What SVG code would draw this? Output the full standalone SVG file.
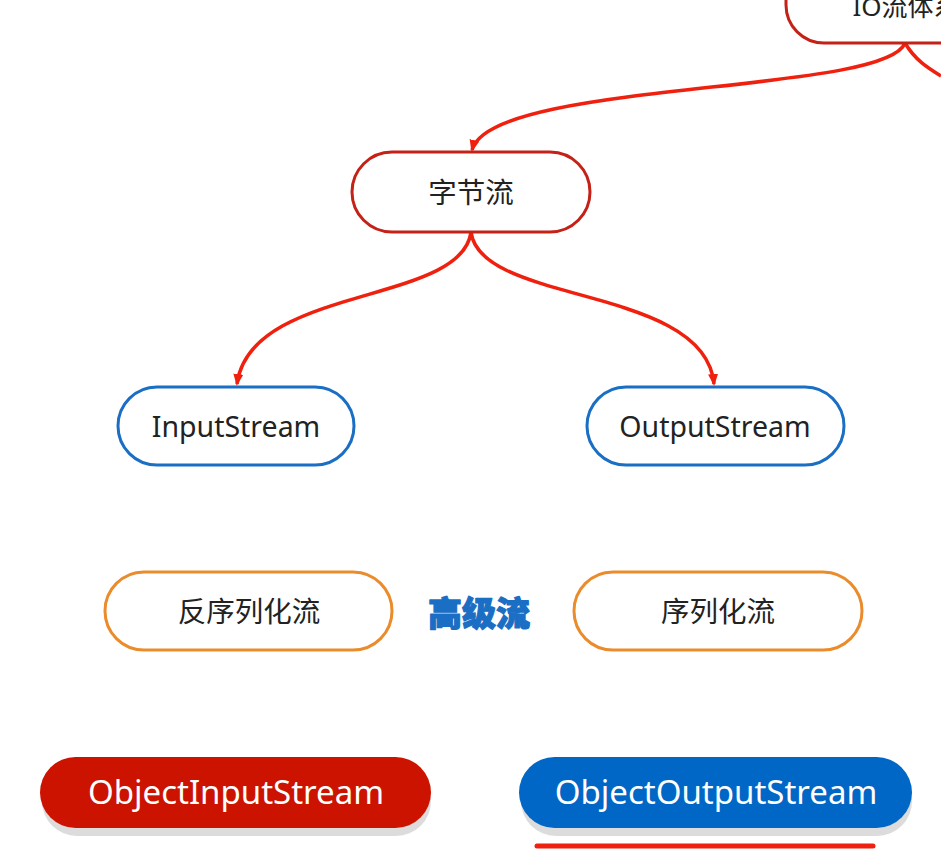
<svg xmlns="http://www.w3.org/2000/svg" width="941" height="854" viewBox="0 0 941 854">
<style>
.t{font-family:"Noto Sans","Noto Sans CJK SC",sans-serif;text-anchor:middle;dominant-baseline:central}
.red{fill:#fff;stroke:#c42117;stroke-width:3}
.blue{fill:#fff;stroke:#1a6fc4;stroke-width:3}
.org{fill:#fff;stroke:#ea8b2c;stroke-width:3}
.c{fill:none;stroke:#f0200f;stroke-width:3.5}
</style>
<defs>
<marker id="arr" markerWidth="12" markerHeight="12" refX="10" refY="6" orient="auto" markerUnits="userSpaceOnUse" viewBox="0 0 12 12">
<path d="M0,1 L12,6 L0,11 z" fill="#f0200f"/>
</marker>
</defs>
<rect width="941" height="854" fill="#fff"/>
<g id="connectors">
<path class="c" d="M905,43 C885,95 490,80 472,150" marker-end="url(#arr)"/>
<path class="c" d="M905,43 C915,60 928,68 941,76"/>
<path class="c" d="M471,232 C462,305 250,285 237,384" marker-end="url(#arr)"/>
<path class="c" d="M471,232 C480,305 705,285 714,384" marker-end="url(#arr)"/>
</g>
<g id="io">
<rect class="red" x="786" y="-37" width="220" height="80" rx="38"/>
<text class="t" x="906" y="6" font-size="26" fill="#222">IO流体系</text>
</g>
<g id="byte">
<rect class="red" x="352" y="152" width="238" height="80" rx="40"/>
<text class="t" x="471" y="192" font-size="28.5" fill="#222">字节流</text>
</g>
<g id="input">
<rect class="blue" x="118" y="387" width="236" height="78" rx="39"/>
<text class="t" x="236" y="426" font-size="28.5" fill="#222">InputStream</text>
</g>
<g id="output">
<rect class="blue" x="587" y="387" width="257" height="78" rx="39"/>
<text class="t" x="715" y="426" font-size="28.5" fill="#222">OutputStream</text>
</g>
<g id="deser">
<rect class="org" x="105" y="572" width="287" height="78" rx="39"/>
<text class="t" x="249" y="611" font-size="28.5" fill="#222">反序列化流</text>
</g>
<g id="advanced">
<text class="t" x="479" y="613" font-size="34" font-weight="900" fill="#1a6fc4" stroke="#1a6fc4" stroke-width="1.2" stroke-linejoin="round">高级流</text>
</g>
<g id="ser">
<rect class="org" x="574" y="572" width="288" height="78" rx="39"/>
<text class="t" x="718" y="611" font-size="28.5" fill="#222">序列化流</text>
</g>
<g id="ois">
<rect x="42" y="766" width="389" height="70" rx="35" fill="#dcdcdc"/>
<rect x="40" y="757" width="391" height="71" rx="35.5" fill="#cc1300"/>
<text class="t" x="236" y="791" font-size="33" fill="#fff">ObjectInputStream</text>
</g>
<g id="oos">
<rect x="521" y="766" width="391" height="70" rx="35" fill="#dcdcdc"/>
<rect x="519" y="757" width="393" height="71" rx="35.5" fill="#0067c6"/>
<text class="t" x="716" y="791" font-size="33" fill="#fff">ObjectOutputStream</text>
</g>
<line x1="537" y1="846" x2="873" y2="846" stroke="#f0200f" stroke-width="5" stroke-linecap="round"/>
</svg>
